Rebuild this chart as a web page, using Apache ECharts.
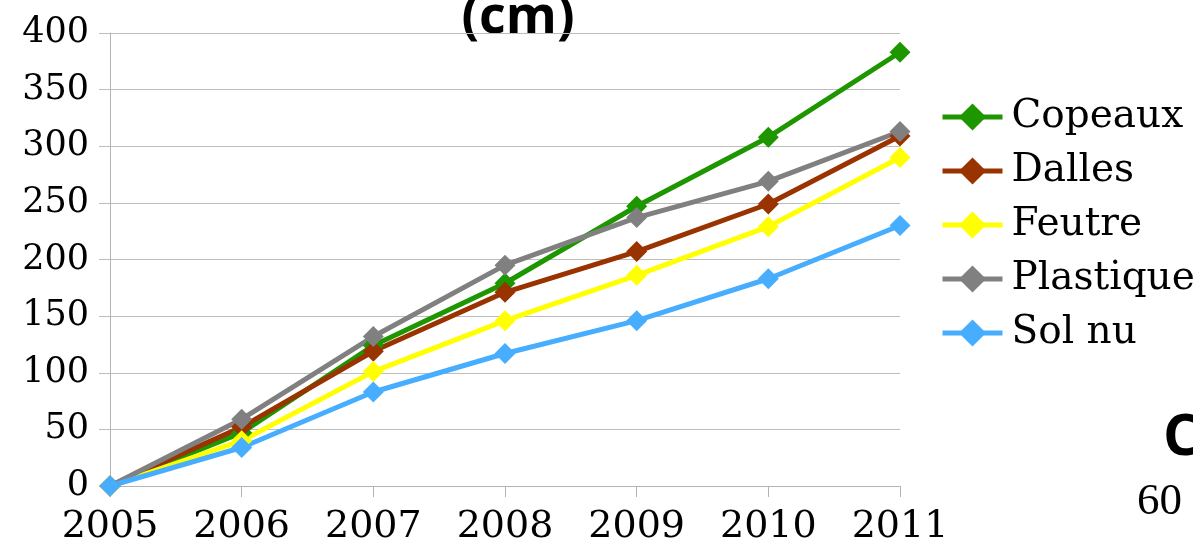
<!DOCTYPE html>
<html>
<head>
<meta charset="utf-8">
<script src="https://cdn.jsdelivr.net/npm/echarts@6/dist/echarts.min.js"></script>
<style>
  html, body { margin: 0; padding: 0; background: #fff; }
  #chart { width: 1193px; height: 540px; }
</style>
</head>
<body>
<div id="chart"></div>
<script>
// chart data
var years = ['2005', '2006', '2007', '2008', '2009', '2010', '2011'];
var seriesNames = ['Copeaux', 'Dalles', 'Feutre', 'Plastique', 'Sol nu'];
var copeaux = [0, 47, 124, 179, 247, 308, 383];
var dalles = [0, 52, 119, 171, 207, 249, 309];
var feutre = [0, 40, 101, 146, 186, 229, 290];
var plastique = [0, 59, 132, 195, 237, 269, 313];
var solNu = [0, 34, 83, 117, 146, 183, 230];
var colors = ['#1e9600', '#993300', '#ffff00', '#808080', '#47aeff'];

var chart = document.getElementById('chart');
var myChart = echarts.init(chart);

var values = [copeaux, dalles, feutre, plastique, solNu];
var series = [];
for (var i = 0; i < seriesNames.length; i++) {
  series.push({
    name: seriesNames[i],
    type: 'line',
    data: values[i],
    symbol: 'diamond',
    symbolSize: 21,
    color: colors[i],
    lineStyle: { width: 5, color: colors[i] },
    itemStyle: { color: colors[i] }
  });
}

var option = {
  animation: false,
  backgroundColor: '#fff',
  grid: {
    left: 110,
    right: 293,
    top: 33,
    bottom: 54,
    outerBoundsMode: 'none'
  },
  legend: {
    orient: 'vertical',
    left: 940,
    top: 97,
    padding: 0,
    itemWidth: 60,
    itemHeight: 34,
    itemGap: 14,
    data: seriesNames,
    lineStyle: { width: 5 },
    textStyle: {
      fontFamily: 'DejaVu Serif',
      fontSize: 39,
      lineHeight: 40,
      color: '#000',
      padding: [0, 0, 0, 4]
    }
  },
  xAxis: {
    type: 'category',
    data: years,
    boundaryGap: false,
    axisLine: { lineStyle: { color: '#b4b4b4', width: 1 } },
    axisTick: { show: true, length: 11, alignWithLabel: true, lineStyle: { color: '#b4b4b4' } },
    axisLabel: {
      margin: 22,
      fontFamily: 'DejaVu Serif',
      fontSize: 38,
      color: '#000',
      interval: 0
    }
  },
  yAxis: {
    type: 'value',
    min: 0,
    max: 400,
    interval: 50,
    axisLine: { show: true, lineStyle: { color: '#b4b4b4', width: 1 } },
    axisTick: { show: true, length: 11, lineStyle: { color: '#bdbdbd' } },
    splitLine: { lineStyle: { color: '#bdbdbd', width: 1 } },
    axisLabel: {
      margin: 21,
      fontFamily: 'DejaVu Serif',
      fontSize: 35,
      color: '#000'
    }
  },
  graphic: [
    {
      type: 'text',
      x: 518,
      y: 18,
      style: {
        text: '(cm)',
        fontFamily: 'Open Sans',
        fontWeight: 'bold',
        fontSize: 52,
        fill: '#000',
        align: 'center',
        verticalAlign: 'middle'
      }
    },
    {
      type: 'text',
      x: 1163,
      y: 439,
      style: {
        text: 'C',
        fontFamily: 'Open Sans',
        fontWeight: 'bold',
        fontSize: 57,
        fill: '#000',
        align: 'left',
        verticalAlign: 'middle'
      }
    },
    {
      type: 'text',
      x: 1137,
      y: 502,
      style: {
        text: '60',
        fontFamily: 'Liberation Serif',
        fontSize: 45,
        fill: '#000',
        align: 'left',
        verticalAlign: 'middle'
      }
    }
  ],
  series: series
};
myChart.setOption(option);
</script>
</body>
</html>
